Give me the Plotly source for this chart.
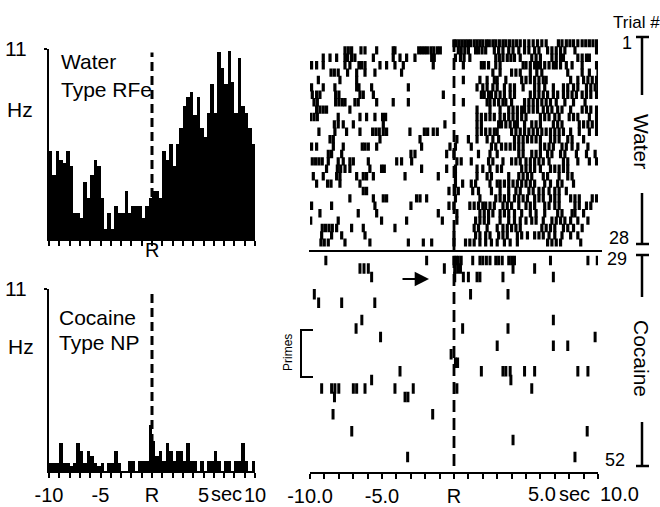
import plotly.graph_objects as go

W, H = 660, 507
def px(x): return x / W
def py(y): return 1 - y / H

FONT = "Liberation Sans, Arial, sans-serif"

# ---------------- data ----------------
bin_width = 1 / 3  # seconds
water_rate = [5.1, 3.7, 5.1, 4.6, 4.4, 5.1, 4.2, 1.5, 1.5, 1.2,
              3.3, 2.4, 3.7, 4.6, 4.2, 2.4, 0.6, 1.5, 0.6, 1.9,
              1.5, 1.5, 2.8, 1.5, 1.9, 1.9, 1.9, 1.2, 1.9, 2.4,
              2.8, 2.8, 2.4, 5.1, 4.6, 5.5, 4.2, 5.5, 6.4, 7.7,
              8.2, 8.5, 7.2, 8.2, 6.4, 5.9, 7.3, 9.0, 7.3, 10.8,
              9.9, 9.0, 10.9, 9.1, 7.3, 10.5, 7.7, 7.3, 6.4, 5.5]
cocaine_rate = [0.5, 0.5, 0.5, 1.7, 0.5, 0.5, 0.3, 0.5, 1.7, 1.2,
                0.5, 1.2, 0.9, 0.5, 0.3, 0.5, 0.0, 0.5, 0.5, 1.2,
                0.5, 0.0, 0.0, 0.6, 0.6, 0.0, 0.6, 0.6, 0.6, 2.8,
                1.8, 0.9, 1.2, 0.6, 1.7, 1.2, 0.6, 1.2, 1.2, 0.6,
                1.7, 0.6, 0.6, 0.0, 0.6, 0.0, 0.6, 0.6, 1.2, 0.6,
                0.0, 0.6, 0.6, 0.0, 0.6, 0.6, 1.7, 0.6, 0.0, 0.6]

# spike times (s) per trial, trials 1..28 (water)
water_trials = [
    [0.0, 0.15, 0.35, 0.55, 0.75, 0.95, 1.15, 1.4, 1.6, 1.8, 2.0, 2.25, 2.45, 2.7, 2.9, 3.15, 3.4, 3.6, 3.85, 4.1, 4.35, 4.6, 4.9, 5.2, 5.5, 5.8, 6.1, 6.4, 7.25, 7.5, 7.8, 8.05, 8.3, 8.6, 8.9, 9.15, 9.4, 9.65, 9.9],
    [-7.57, -7.34, -7.11, -6.46, -6.18, -5.37, -4.22, -4.10, -2.45, -2.25, -2.05, -1.85, -1.6, -1.4, -1.15, -0.95, 0.3, 0.5, 0.75, 1.0, 1.5, 1.7, 1.95, 2.2, 2.8, 3.1, 3.4, 3.8, 4.1, 4.5, 4.9, 5.2, 5.6, 5.9, 6.5, 6.8, 7.1, 7.4, 7.7, 8.4, 9.9],
    [-9.08, -8.61, -8.15, -7.57, -7.39, -7.11, -6.88, -5.6, -4.22, -3.75, -3.29, -2.71, -1.55, -1.37, 0.1, 0.45, 0.7, 1.1, 2.9, 3.15, 3.4, 3.7, 3.95, 4.2, 4.6, 5.4, 5.7, 6.0, 6.8, 7.1, 7.4, 7.6, 8.6, 8.9, 9.2, 9.4],
    [-9.89, -9.54, -9.08, -7.57, -7.23, -6.6, -6.42, -6.18, -5.14, -4.68, -4.1, -3.52, -1.44, 0.65, 1.9, 2.1, 2.4, 2.9, 3.2, 4.8, 5.0, 5.3, 5.6, 5.8, 6.0, 6.3, 6.6, 6.9, 7.1, 7.4, 7.8, 8.2, 8.9, 9.9],
    [-8.54, -8.31, -8.04, -7.39, -6.76, -6.18, -5.49, -3.64, 2.7, 3.2, 4.0, 4.3, 4.6, 5.3, 5.75, 6.1, 7.9, 8.9, 9.4, 10.0],
    [-9.42, -7.92, -6.76, 0.65, 1.8, 2.3, 2.8, 3.0, 3.6, 4.7, 5.0, 5.3, 5.6, 5.9, 6.2, 6.4, 8.1, 8.6, 9.0, 9.3, 9.6, 9.9],
    [-9.89, -9.08, -8.27, -6.76, -6.6, -5.72, -3.17, 1.6, 2.0, 2.3, 2.7, 3.0, 3.5, 3.9, 4.2, 4.8, 5.6, 5.9, 6.3, 6.9, 7.6, 7.9, 8.3, 8.6, 9.2, 9.5, 9.8, 10.0],
    [-9.84, -9.54, -9.31, -8.22, -7.99, -6.53, -6.3, -5.6, -0.74, 1.9, 2.1, 2.4, 2.6, 2.9, 3.2, 3.5, 3.9, 4.2, 5.3, 5.6, 5.9, 6.2, 6.5, 6.9, 7.2, 7.6, 7.9, 8.2, 8.5, 8.9, 9.2, 9.5, 9.9],
    [-9.72, -9.49, -8.22, -7.99, -7.76, -7.57, -6.88, -6.65, -5.37, -4.22, -3.17, 0.65, 2.3, 2.5, 2.8, 3.1, 3.4, 3.6, 4.0, 4.9, 5.2, 5.5, 5.8, 6.1, 6.4, 6.7, 7.1, 7.7, 8.3, 9.1],
    [-9.54, -9.31, -9.08, -8.85, -7.23, 1.6, 2.5, 3.2, 3.8, 4.1, 4.4, 4.7, 4.9, 5.2, 5.5, 5.8, 6.2, 6.5, 6.8, 7.2, 7.5, 8.1, 8.9, 9.2, 9.5, 9.9],
    [-9.96, -9.72, -9.49, -8.04, -6.53, -6.07, -5.49, -4.96, -4.75, 1.6, 1.9, 2.2, 2.5, 2.8, 3.2, 3.5, 3.8, 4.1, 4.4, 4.7, 5.0, 6.0, 6.3, 6.6, 7.0, 7.3, 8.0, 8.3, 8.6, 9.4, 9.9],
    [-8.31, -8.04, -7.69, -6.99, -4.91, -0.63, 1.6, 1.9, 3.1, 3.3, 3.6, 3.9, 4.2, 4.4, 4.9, 5.4, 5.7, 6.0, 6.9, 7.2, 7.5, 8.7, 9.0, 9.3, 9.6, 9.9],
    [-9.38, -8.27, -7.46, -6.53, -5.65, -5.42, -5.19, -4.91, -4.68, -3.06, -2.06, -1.83, -1.44, -1.16, 1.6, 1.9, 2.2, 2.5, 2.8, 3.0, 4.0, 4.3, 4.6, 4.9, 5.2, 5.5, 5.8, 6.1, 6.4, 6.7, 7.0, 7.3, 7.6, 8.1, 8.7, 9.4, 9.9],
    [-8.61, -8.38, -5.14, -2.36, 0.2, 1.0, 1.6, 2.3, 2.7, 3.1, 4.2, 4.5, 4.8, 5.1, 5.4, 5.7, 6.0, 6.7, 7.0, 7.3, 7.9, 8.2, 9.0],
    [-9.89, -9.54, -8.38, -7.69, -6.37, -6.18, -5.95, -5.37, -2.25, -0.28, 0.1, 1.2, 2.6, 2.9, 3.3, 3.6, 3.9, 4.2, 4.5, 4.8, 6.0, 6.3, 6.6, 6.9, 7.5, 7.8, 8.2, 8.6, 9.3],
    [-8.73, -8.5, -7.8, -2.99, -2.71, -0.51, 0.0, 1.7, 2.5, 3.0, 4.5, 4.8, 5.4, 5.7, 6.0, 6.5, 6.8, 7.4, 7.7, 8.5, 9.2, 9.8],
    [-9.84, -9.61, -9.38, -9.15, -8.73, -8.04, -7.69, -7.23, -6.99, -5.95, -3.98, -3.64, -2.94, 0.2, 0.5, 1.2, 2.4, 2.7, 3.4, 4.0, 4.3, 4.6, 5.0, 5.3, 5.6, 5.9, 6.2, 6.6, 7.6, 7.9, 8.6, 9.4, 9.9],
    [-8.85, -8.1, -7.87, -7.57, -7.23, -5.84, -5.03, -4.84, -2.25, -0.51, 0.1, 1.6, 2.0, 2.5, 3.0, 3.3, 4.7, 5.0, 5.3, 5.6, 6.0, 6.7, 7.0, 7.3, 7.6, 7.9],
    [-9.77, -9.08, -8.15, -7.92, -6.76, -6.3, -6.07, -5.6, -3.4, -1.09, 0.1, 1.6, 2.3, 2.6, 3.8, 4.5, 4.8, 5.1, 5.4, 6.2, 6.5, 7.3, 7.9, 8.2],
    [-9.54, -8.78, -8.54, -7.92, -6.53, 0.1, 0.6, 1.2, 1.5, 2.5, 3.0, 3.2, 3.5, 3.8, 4.1, 4.4, 4.7, 5.0, 5.3, 5.6, 6.3, 6.7, 7.2, 7.5, 8.3],
    [-6.3, -6.07, -0.35, 0.05, 0.3, 1.3, 1.7, 2.6, 3.2, 3.8, 4.3, 4.6, 5.2, 5.5, 5.9, 6.2, 6.6, 7.0, 7.3, 7.8],
    [-7.23, -5.6, -4.91, -4.68, -2.6, -2.36, -1.9, 0.1, 1.8, 2.9, 3.2, 3.5, 3.8, 4.2, 4.5, 4.8, 5.1, 5.6, 5.9, 6.2, 6.7, 7.0, 7.3, 8.1, 8.4, 8.7, 9.6, 9.9],
    [-9.89, -8.5, -5.49, -2.99, -0.35, 0.0, 1.1, 1.4, 1.7, 2.0, 2.2, 2.5, 2.8, 3.4, 3.7, 4.0, 4.5, 5.0, 5.3, 5.6, 6.3, 6.6, 7.0, 7.3, 8.4, 8.7, 9.2, 9.5],
    [-9.31, -6.65, -5.37, -1.09, 0.2, 1.8, 2.1, 2.4, 2.7, 3.2, 3.5, 3.8, 4.2, 4.7, 5.3, 5.7, 6.3, 7.2, 7.5, 8.2, 8.4, 9.0],
    [-9.95, -8.04, -5.03, -3.29, -0.81, 0.2, 1.5, 1.8, 2.1, 2.4, 3.2, 3.8, 4.2, 4.6, 5.0, 5.4, 5.7, 6.2, 6.8, 7.1, 7.4, 7.7, 8.1, 8.6, 9.3],
    [-9.15, -8.92, -8.68, -8.45, -8.15, -7.11, -6.3, -4.1, 1.4, 1.7, 2.3, 3.0, 3.4, 3.7, 4.0, 4.3, 4.6, 6.1, 6.4, 6.7, 7.0, 7.6, 7.9, 8.3, 8.9],
    [-9.19, -8.5, -7.8, -6.18, 0.0, 1.5, 1.8, 2.2, 2.5, 3.1, 3.4, 3.7, 4.4, 4.7, 5.1, 5.6, 5.9, 6.2, 6.6, 7.0, 7.5, 8.1, 8.6],
    [-9.24, -9.01, -8.73, -7.57, -5.84, -3.17, -2.13, -1.55, 0.0, 0.8, 1.1, 1.4, 1.8, 2.2, 2.6, 3.0, 3.5, 3.9, 4.4, 6.5, 6.8, 7.1, 7.4, 8.8],
]

# spike times (s) per trial, trials 29..52 (cocaine)
cocaine_trials = [
    [-8.9, -1.9, 0.0, 0.15, 0.3, 0.5, 1.3, 1.8, 2.0, 2.25, 2.5, 2.9, 3.1, 3.35, 3.8, 4.0, 4.2, 6.7, 9.3, 9.95],
    [-6.53, -6.25, -5.95, -0.67, 0.05, 0.25, 0.45, 4.1, 5.6],
    [-5.72, 0.05, 0.65, 1.0, 1.6, 1.8, 3.4, 6.9],
    [],
    [-9.7, 1.15, 3.75],
    [-9.4, -7.8, -5.5],
    [],
    [-6.4, 6.9],
    [-6.8, 0.6, 3.75],
    [-5.1, 9.8],
    [3.0, 6.9, 7.9],
    [-0.2],
    [0.1, 0.25],
    [-3.75, 1.9, 3.4, 3.6, 3.9, 4.9, 5.6, 8.6, 9.3],
    [-5.72, 3.95],
    [-9.19, -8.5, -8.27, -8.0, -6.99, -6.76, -6.18, -4.1, -2.83, 0.2, 5.4],
    [-8.3, -3.4, -3.2],
    [],
    [-8.4, -1.48],
    [],
    [-7.1, 9.25],
    [4.1],
    [],
    [-3.22, 8.4],
]
first_cocaine_trial = 29

tick_secs = list(range(-10, 11))
hist_top_labels = {}
hist_bot_labels = {-10: "-10", -5: "-5", 0: "R", 5: "5", 10: "10"}
raster_labels = {-10: "-10.0", -5: "-5.0", 0: "R"}

# ---------------- figure ----------------
bin_centers = [-10 + (i + 0.5) * bin_width for i in range(len(water_rate))]

fig = go.Figure()
fig.add_trace(go.Bar(x=bin_centers, y=water_rate, width=bin_width,
                     marker=dict(color="black", line=dict(width=0)),
                     xaxis="x", yaxis="y"))
fig.add_trace(go.Bar(x=bin_centers, y=cocaine_rate, width=bin_width,
                     marker=dict(color="black", line=dict(width=0)),
                     xaxis="x2", yaxis="y2"))

wx, wy = [], []
for n, spikes in enumerate(water_trials, start=1):
    wx += spikes
    wy += [n] * len(spikes)
fig.add_trace(go.Scatter(x=wx, y=wy, mode="markers",
                         marker=dict(symbol="line-ns", size=6, color="black",
                                     line=dict(width=3.2, color="black")),
                         xaxis="x3", yaxis="y3"))

cx, cy = [], []
for n, spikes in enumerate(cocaine_trials, start=first_cocaine_trial):
    cx += spikes
    cy += [n] * len(spikes)
fig.add_trace(go.Scatter(x=cx, y=cy, mode="markers",
                         marker=dict(symbol="line-ns", size=7.5, color="black",
                                     line=dict(width=3.0, color="black")),
                         xaxis="x4", yaxis="y4"))

tickfont = dict(family=FONT, size=20, color="black")

def xaxis_common(dom, labels, anchor):
    return dict(domain=dom, range=[-10, 10], anchor=anchor, automargin=False,
                showline=True, linecolor="black", linewidth=2,
                ticks="outside", ticklen=5, tickwidth=1.6, tickcolor="black",
                tickvals=tick_secs,
                ticktext=[labels.get(v, "") for v in tick_secs],
                tickfont=tickfont, ticklabelstandoff=0,
                showgrid=False, zeroline=False, fixedrange=True)

def yaxis_hist(dom, anchor):
    return dict(domain=dom, range=[0, 11], anchor=anchor, automargin=False,
                showline=True, linecolor="black", linewidth=2,
                ticks="outside", ticklen=3, tickwidth=1.6, tickcolor="black",
                tickvals=[11], ticktext=["11"], tickfont=dict(family=FONT, size=21, color="black"),
                ticklabelstandoff=13,
                showgrid=False, zeroline=False, fixedrange=True)

hist_xdom = [px(49), px(255)]
rast_xdom = [px(310), px(598)]

fig.update_layout(
    width=W, height=H, margin=dict(l=0, r=0, t=0, b=0, autoexpand=False),
    paper_bgcolor="white", plot_bgcolor="white",
    showlegend=False, bargap=0,
    font=dict(family=FONT, color="black"),
    xaxis=xaxis_common(hist_xdom, hist_top_labels, "y"),
    yaxis=yaxis_hist([py(239), py(49)], "x"),
    xaxis2=xaxis_common(hist_xdom, hist_bot_labels, "y2"),
    yaxis2=yaxis_hist([py(471), py(289)], "x2"),
    xaxis3=dict(domain=rast_xdom, range=[-10, 10], anchor="y3", visible=False,
                automargin=False),
    yaxis3=dict(domain=[py(246.5), py(39.3)], range=[28.5, 0.5], anchor="x3",
                visible=False, automargin=False),
    xaxis4=xaxis_common(rast_xdom, raster_labels, "y4"),
    yaxis4=dict(domain=[py(472), py(255.7)], range=[53.75, 28.5], anchor="x4",
                visible=False, automargin=False),
)

dash_line = dict(color="black", width=3, dash="9px,5px")
shapes = [
    dict(type="line", xref="x", yref="y", x0=0, x1=0, y0=0, y1=10.8, line=dash_line),
    dict(type="line", xref="x2", yref="y2", x0=0, x1=0, y0=0, y1=10.8, line=dash_line),
    dict(type="line", xref="x4", yref="paper", x0=0, x1=0, y0=py(466), y1=py(36),
         line=dict(color="black", width=2.8, dash="12px,6px")),
    # separator between water and cocaine trials
    dict(type="line", xref="paper", yref="paper", x0=px(309), x1=px(602),
         y0=py(251), y1=py(251), line=dict(color="black", width=2)),
    # trial brackets on the right
    dict(type="line", xref="paper", yref="paper", x0=px(642), x1=px(642), y0=py(37), y1=py(95),
         line=dict(color="black", width=2.5)),
    dict(type="line", xref="paper", yref="paper", x0=px(636), x1=px(649), y0=py(37), y1=py(37),
         line=dict(color="black", width=2.5)),
    dict(type="line", xref="paper", yref="paper", x0=px(642), x1=px(642), y0=py(193), y1=py(244),
         line=dict(color="black", width=2.5)),
    dict(type="line", xref="paper", yref="paper", x0=px(636), x1=px(649), y0=py(244), y1=py(244),
         line=dict(color="black", width=2.5)),
    dict(type="line", xref="paper", yref="paper", x0=px(642), x1=px(642), y0=py(255), y1=py(297),
         line=dict(color="black", width=2.5)),
    dict(type="line", xref="paper", yref="paper", x0=px(636), x1=px(649), y0=py(255), y1=py(255),
         line=dict(color="black", width=2.5)),
    dict(type="line", xref="paper", yref="paper", x0=px(642), x1=px(642), y0=py(422), y1=py(466),
         line=dict(color="black", width=2.5)),
    dict(type="line", xref="paper", yref="paper", x0=px(636), x1=px(649), y0=py(466), y1=py(466),
         line=dict(color="black", width=2.5)),
    # primes bracket
    dict(type="path", xref="paper", yref="paper",
         path=f"M {px(313)} {py(330)} L {px(301)} {py(330)} L {px(301)} {py(377)} L {px(313)} {py(377)}",
         line=dict(color="black", width=2)),
]
fig.update_layout(shapes=shapes)

def ann(text, x, y, size=21, angle=0, xanchor="center", yanchor="middle", xref="paper"):
    return dict(text=text, x=x, y=y, xref=xref, yref="paper", showarrow=False,
                font=dict(family=FONT, size=size, color="black"),
                textangle=angle, xanchor=xanchor, yanchor=yanchor)

annotations = [
    ann("R", 0, py(250), xref="x", size=20),
    ann("Hz", px(20), py(109)),
    ann("Hz", px(21), py(346)),
    ann("Water", px(59), py(62), xanchor="left"),
    ann("Type RFe", px(59), py(89), xanchor="left"),
    ann("Cocaine", px(57), py(317), xanchor="left"),
    ann("Type NP", px(57), py(342), xanchor="left"),
    ann("sec", px(226), py(494), size=20),
    ann("5.0", 5, py(494), xanchor="left", xref="x4", size=20),
    ann("sec", px(574), py(494), size=20),
    ann("10.0", 10, py(494), xanchor="left", xref="x4", size=20),
    ann("Trial #", px(636), py(22), size=17),
    ann("1", px(627), py(43), size=18),
    ann("28", px(619), py(238), size=18),
    ann("29", px(617), py(259), size=18),
    ann("52", px(615), py(460), size=18),
    ann("Water", px(642), py(141), angle=90),
    ann("Cocaine", px(642), py(358), angle=90),
    ann("Primes", px(288), py(353), size=12, angle=-90),
    dict(text="", x=px(429), y=py(279), xref="paper", yref="paper",
         ax=-28, ay=0, showarrow=True, arrowhead=2, arrowsize=1.3,
         arrowwidth=2.2, arrowcolor="black"),
]
fig.update_layout(annotations=annotations)

fig.write_html("out.html")
